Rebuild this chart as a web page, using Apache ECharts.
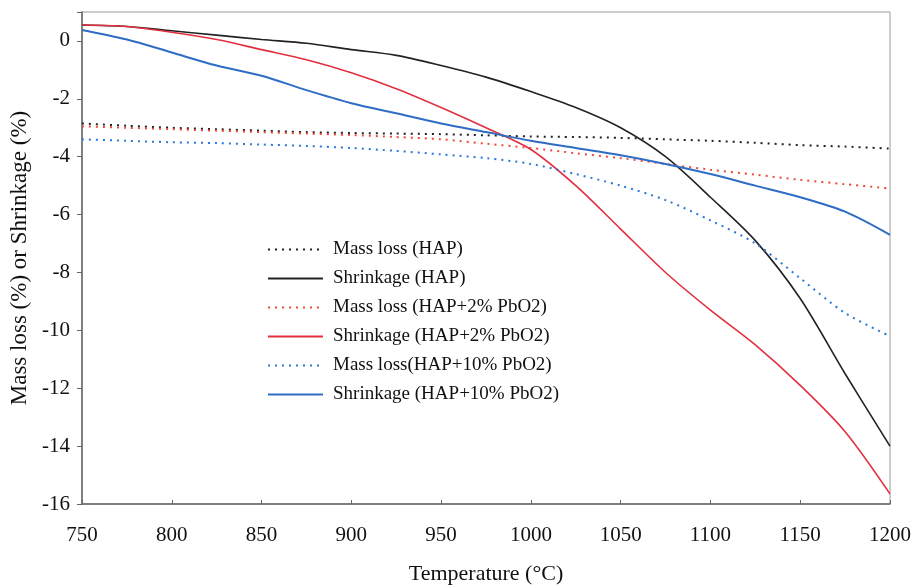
<!DOCTYPE html>
<html>
<head>
<meta charset="utf-8">
<script src="https://cdn.jsdelivr.net/npm/echarts@6/dist/echarts.min.js"></script>
<style>html,body{margin:0;padding:0;background:#fff}#c{width:914px;height:587px}</style>
</head>
<body>
<div id="c"></div>
<script>
var temps = [750,775,800,825,850,875,900,925,950,975,1000,1025,1050,1075,1100,1125,1150,1175,1200];
var massHAP   = [-2.85,-2.93,-3.0,-3.05,-3.1,-3.15,-3.18,-3.2,-3.22,-3.26,-3.3,-3.32,-3.35,-3.4,-3.45,-3.52,-3.6,-3.65,-3.72];
var shrHAP    = [0.55,0.5,0.35,0.2,0.05,-0.08,-0.3,-0.5,-0.85,-1.25,-1.75,-2.3,-3.0,-4.0,-5.4,-6.9,-8.9,-11.5,-14.0];
var mass2     = [-2.95,-3.0,-3.05,-3.1,-3.15,-3.2,-3.25,-3.32,-3.4,-3.55,-3.7,-3.88,-4.05,-4.25,-4.45,-4.62,-4.8,-4.95,-5.1];
var shr2      = [0.55,0.5,0.3,0.05,-0.3,-0.65,-1.1,-1.65,-2.3,-3.0,-3.75,-5.0,-6.5,-8.0,-9.3,-10.5,-11.9,-13.5,-15.65];
var mass10    = [-3.4,-3.45,-3.5,-3.53,-3.58,-3.63,-3.7,-3.8,-3.92,-4.05,-4.25,-4.6,-5.0,-5.5,-6.2,-7.0,-8.2,-9.4,-10.2];
var shr10     = [0.38,0.05,-0.4,-0.85,-1.2,-1.7,-2.15,-2.5,-2.85,-3.15,-3.45,-3.7,-3.95,-4.25,-4.6,-5.0,-5.4,-5.9,-6.7];
var names = ['Mass loss (HAP)','Shrinkage (HAP)','Mass loss (HAP+2% PbO2)','Shrinkage (HAP+2% PbO2)','Mass loss(HAP+10% PbO2)','Shrinkage (HAP+10% PbO2)'];

function pairs(v){ return temps.map(function(t,i){ return [t, v[i]]; }); }
function ser(name, data, color, dotted, width){
  return {
    name: name, type: 'line', data: pairs(data), symbol: 'none', smooth: 0.3,
    lineStyle: { color: color, width: width, type: dotted ? [2,5] : 'solid' },
    itemStyle: { color: color }
  };
}
var font = '"Liberation Serif", "DejaVu Serif", serif';
var chart = echarts.init(document.getElementById('c'));
chart.setOption({
  animation: false,
  backgroundColor: '#fff',
  grid: { left: 82, right: 24, top: 12, bottom: 83, show: true, borderColor: '#9a9a9a', borderWidth: 1,
          outerBoundsMode: 'none', containLabel: false },
  legend: {
    orient: 'vertical', left: 262, top: 235, itemWidth: 55, itemHeight: 12, itemGap: 10,
    itemStyle: { opacity: 0 },
    textStyle: { fontFamily: font, fontSize: 19, color: '#111', padding: [0, 0, 0, 5] },
    data: names
  },
  xAxis: {
    type: 'value', min: 750, max: 1200, interval: 50,
    name: 'Temperature (°C)', nameLocation: 'middle', nameGap: 59,
    nameTextStyle: { fontFamily: font, fontSize: 22, color: '#111' },
    axisLine: { show: true, onZero: false, lineStyle: { color: '#666', width: 1.5 } },
    axisTick: { show: true, inside: true, length: 4, lineStyle: { color: '#666' } },
    axisLabel: { fontFamily: font, fontSize: 21, color: '#111', margin: 21,
      formatter: function(v){ return String(v); } },
    splitLine: { show: false }
  },
  yAxis: {
    type: 'value', min: -16, max: 1, interval: 2,
    name: 'Mass loss (%) or Shrinkage (%)', nameLocation: 'middle', nameGap: 51,
    nameTextStyle: { fontFamily: font, fontSize: 23, color: '#111' },
    axisLine: { show: true, lineStyle: { color: '#666', width: 1.5 } },
    axisTick: { show: true, length: 5, lineStyle: { color: '#666' } },
    axisLabel: { fontFamily: font, fontSize: 21, color: '#111', margin: 12,
      formatter: function(v){ return v > 0 ? '' : String(v); } },
    splitLine: { show: false }
  },
  series: [
    ser(names[0], massHAP, '#222222', true, 2),
    ser(names[1], shrHAP, '#222222', false, 1.6),
    ser(names[2], mass2, '#ee4a3a', true, 2),
    ser(names[3], shr2, '#e2303f', false, 1.6),
    ser(names[4], mass10, '#2a78d8', true, 2),
    ser(names[5], shr10, '#2f6cc4', false, 2)
  ]
});
</script>
</body>
</html>
